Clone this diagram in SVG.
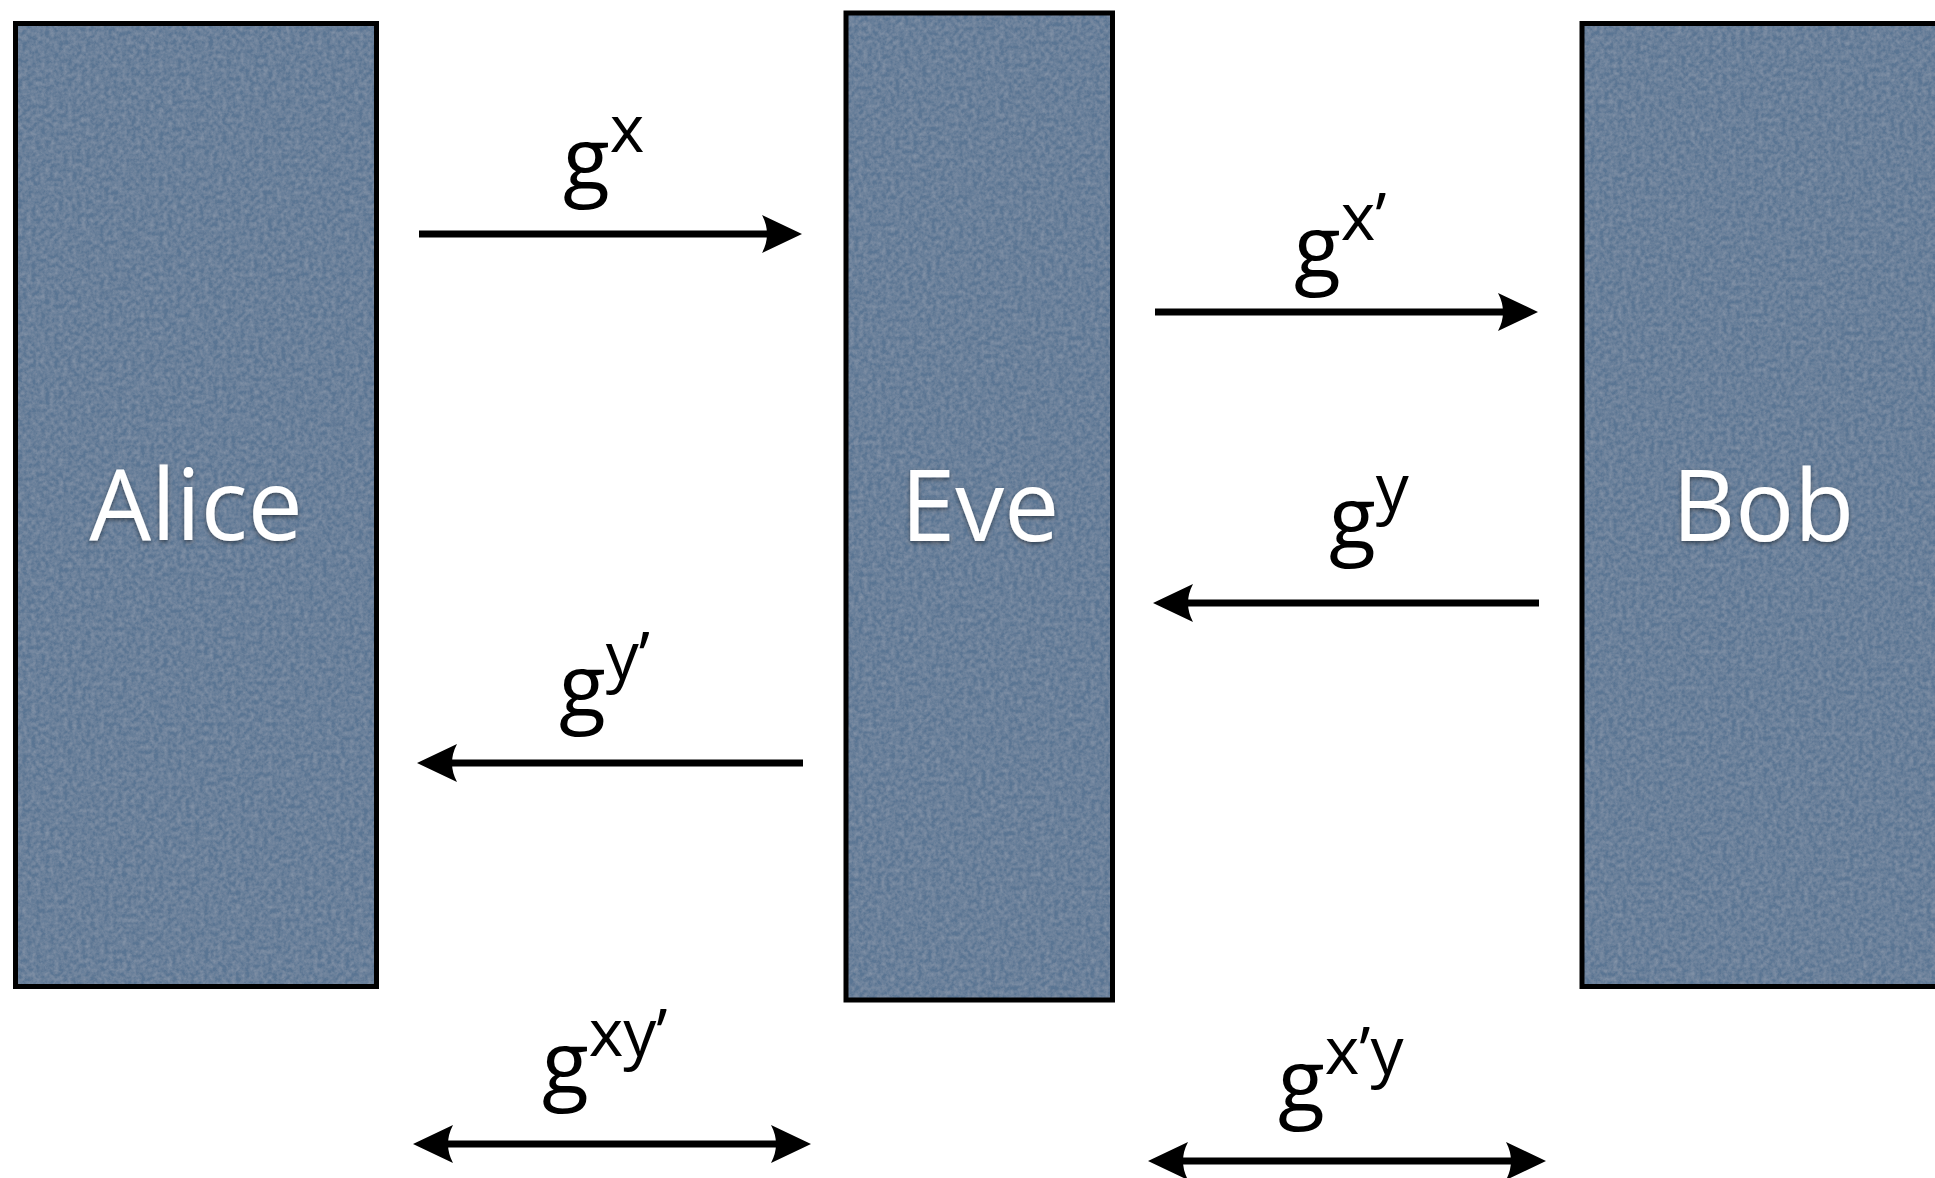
<svg xmlns="http://www.w3.org/2000/svg" width="1935" height="1178" viewBox="0 0 1935 1178">
<style>
.fill{fill:#5a7593}
.edge{fill:none;stroke:#000;stroke-width:5}
.name{font-family:"Open Sans","Noto Sans",sans-serif;font-size:98px;fill:#fff;text-anchor:middle}
.lbl{font-family:"Open Sans","Noto Sans",sans-serif;font-size:86px;font-weight:500;fill:#000}
.sup{font-size:66px}
.arr{fill:none;stroke:#000;stroke-width:7}
</style>
<defs>
<marker id="ah" viewBox="0 0 40 40" refX="10" refY="20" markerWidth="40" markerHeight="40" markerUnits="userSpaceOnUse" orient="auto-start-reverse">
<path d="M40,20 L0,1 Q10,20 0,39 Z" fill="#000"/>
</marker>
<filter id="tex" x="0" y="0" width="1" height="1">
<feTurbulence type="fractalNoise" baseFrequency="0.22" numOctaves="3" seed="4" result="n"/>
<feColorMatrix in="n" type="matrix" values="0 0 0 0 1  0 0 0 0 1  0 0 0 0 1  0.22 0 0 0 -0.06" result="w"/>
<feComposite in="w" in2="SourceGraphic" operator="in" result="wc"/>
<feMerge><feMergeNode in="SourceGraphic"/><feMergeNode in="wc"/></feMerge>
</filter>
<filter id="sh" x="-10%" y="-20%" width="120%" height="140%">
<feDropShadow dx="0" dy="2" stdDeviation="2" flood-color="#000" flood-opacity="0.45"/>
</filter>
</defs>
<rect width="1935" height="1178" fill="#fff"/>
<g id="alice">
<rect class="fill" x="15.5" y="23.5" width="361" height="963" filter="url(#tex)"/>
<rect class="edge" x="15.5" y="23.5" width="361" height="963"/>
<text class="name" x="196" y="540" filter="url(#sh)">Alice</text>
</g>
<g id="eve">
<rect class="fill" x="846" y="13" width="266.5" height="987" filter="url(#tex)"/>
<rect class="edge" x="846" y="13" width="266.5" height="987"/>
<text class="name" x="980" y="541" filter="url(#sh)">Eve</text>
</g>
<g id="bob">
<rect class="fill" x="1582" y="23.5" width="400" height="963" filter="url(#tex)"/>
<rect class="edge" x="1582" y="23.5" width="400" height="963"/>
<text class="name" x="1763" y="541" filter="url(#sh)">Bob</text>
</g>
<g id="connectors">
<path class="arr" d="M419,234 H772" marker-end="url(#ah)"/>
<path class="arr" d="M1155,312 H1508" marker-end="url(#ah)"/>
<path class="arr" d="M1539,603 H1183" marker-end="url(#ah)"/>
<path class="arr" d="M803,763 H447" marker-end="url(#ah)"/>
<path class="arr" d="M443,1144 H781" marker-start="url(#ah)" marker-end="url(#ah)"/>
<path class="arr" d="M1178,1161 H1516" marker-start="url(#ah)" marker-end="url(#ah)"/>
</g>
<g id="labels">
<text class="lbl" x="563" y="189">g<tspan class="sup" dy="-37">x</tspan></text>
<text class="lbl" x="1294" y="277">g<tspan class="sup" dy="-37">x’</tspan></text>
<text class="lbl" x="1329" y="548">g<tspan class="sup" dy="-37">y</tspan></text>
<text class="lbl" x="559" y="716">g<tspan class="sup" dy="-37">y’</tspan></text>
<text class="lbl" x="542" y="1093">g<tspan class="sup" dy="-37">xy’</tspan></text>
<text class="lbl" x="1278" y="1111">g<tspan class="sup" dy="-37">x’y</tspan></text>
</g>
</svg>
